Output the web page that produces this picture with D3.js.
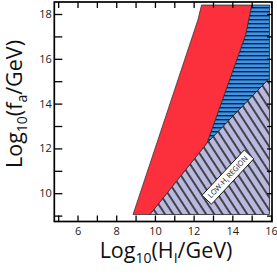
<!DOCTYPE html>
<html>
<head>
<meta charset="utf-8">
<script src="https://cdn.jsdelivr.net/npm/d3@7"></script>
<style>
  body { margin: 0; background: #fff; }
  svg { display: block; }
</style>
</head>
<body>
<svg id="chart" width="277" height="278"></svg>
<script>
// region outlines as [log10 H_I, log10 f_a]
const redRegion = [[8.87, 9.05], [9.74, 9.05], [12.69, 12.24], [14.68, 17.06], [15.0, 18.4], [12.41, 18.4], [12.22, 17.73]];
const stripedRegion = [[12.69, 12.24], [15.92, 15.14], [15.92, 18.4], [15.0, 18.4], [14.68, 17.06]];
const hatchedRegion = [[9.74, 9.05], [15.92, 9.05], [15.92, 15.14], [12.69, 12.24]];

const xTicks = [5, 6, 7, 8, 9, 10, 11, 12, 13, 14, 15, 16];
const xTickLabels = [6, 8, 10, 12, 14, 16];
const yTicks = [9, 10, 11, 12, 13, 14, 15, 16, 17, 18];
const yTickLabels = [10, 12, 14, 16, 18];

const regionLabel = {x: 13.77, y: 10.72, main: "LOW-H", sub: "I", rest: " REGION"};

const svg = d3.select("#chart");
const margin = {left: 54.3, right: 5, top: 2, bottom: 56.5};
const W = 277, H = 278;

const x = d3.scaleLinear().domain([4.8, 16.05]).range([margin.left, W - margin.right]);
const y = d3.scaleLinear().domain([8.737, 18.536]).range([H - margin.bottom, margin.top]);

const defs = svg.append("defs");

// horizontal blue / black stripes
const stripes = defs.append("pattern")
    .attr("id", "stripes")
    .attr("patternUnits", "userSpaceOnUse")
    .attr("width", 8).attr("height", 4);
stripes.append("rect").attr("width", 8).attr("height", 4).attr("fill", "#1a1a1a");
stripes.append("rect").attr("y", 0.4).attr("width", 8).attr("height", 2.6).attr("fill", "#3b95ee");

// diagonal hatch
const hatch = defs.append("pattern")
    .attr("id", "hatch")
    .attr("patternUnits", "userSpaceOnUse")
    .attr("width", 6.9).attr("height", 10)
    .attr("patternTransform", "rotate(-33)");
hatch.append("rect").attr("width", 6.9).attr("height", 10).attr("fill", "#b9b9dd");
hatch.append("line")
    .attr("x1", 1).attr("x2", 1).attr("y1", 0).attr("y2", 10)
    .attr("stroke", "#111").attr("stroke-width", 1.4);

const line = d3.line().x(d => x(d[0])).y(d => y(d[1])).curve(d3.curveLinearClosed);

svg.append("path").datum(hatchedRegion)
    .attr("d", line).attr("fill", "url(#hatch)")
    .attr("stroke", "#222").attr("stroke-width", 0.8);
svg.append("path").datum(stripedRegion)
    .attr("d", line).attr("fill", "url(#stripes)")
    .attr("stroke", "#222").attr("stroke-width", 0.8);
svg.append("path").datum(redRegion)
    .attr("d", line).attr("fill", "#fc303c")
    .attr("stroke", "#333").attr("stroke-width", 0.8);

// boxed label inside the hatched region
const lab = svg.append("g")
    .attr("transform", `translate(${x(regionLabel.x)},${y(regionLabel.y)}) rotate(-47)`);
lab.append("rect")
    .attr("x", -31).attr("y", -6.5).attr("width", 62).attr("height", 13)
    .attr("fill", "#fff").attr("stroke", "#111").attr("stroke-width", 0.9);
const lt = lab.append("text")
    .attr("text-anchor", "middle").attr("y", 2.4)
    .style("font", "7.3px 'Open Sans', sans-serif").attr("fill", "#111");
lt.append("tspan").text(regionLabel.main);
lt.append("tspan").attr("dy", 2).style("font-size", "5px").text(regionLabel.sub);
lt.append("tspan").attr("dy", -2).text(regionLabel.rest);

// axes, ticks pointing inward
const tickFont = "11px 'Open Sans', sans-serif";
function styleAxis(g) {
  g.select(".domain").remove();
  g.selectAll(".tick line").attr("stroke", "#000").attr("stroke-width", 1.3);
  g.selectAll(".tick text").style("font", tickFont).attr("fill", "#222");
  g.selectAll(".tick text").filter(function() { return this.textContent === ""; }).remove();
}

svg.append("g")
    .attr("transform", `translate(0,${y.range()[0]})`)
    .call(d3.axisBottom(x).tickValues(xTicks).tickSize(-6).tickPadding(5.5)
      .tickFormat(d => xTickLabels.includes(d) ? d : ""))
    .call(styleAxis);
svg.append("g")
    .attr("transform", `translate(0,${y.range()[1]})`)
    .call(d3.axisTop(x).tickValues(xTicks).tickSize(-6).tickFormat(""))
    .call(styleAxis);
svg.append("g")
    .attr("transform", `translate(${x.range()[0]},0)`)
    .call(d3.axisLeft(y).tickValues(yTicks).tickSize(-8).tickPadding(2.5)
      .tickFormat(d => yTickLabels.includes(d) ? d : ""))
    .call(styleAxis);
svg.append("g")
    .attr("transform", `translate(${x.range()[1]},0)`)
    .call(d3.axisRight(y).tickValues(yTicks).tickSize(-5).tickFormat(""))
    .call(styleAxis);

svg.append("rect")
    .attr("x", x.range()[0]).attr("y", y.range()[1])
    .attr("width", x.range()[1] - x.range()[0])
    .attr("height", y.range()[0] - y.range()[1])
    .attr("fill", "none").attr("stroke", "#000").attr("stroke-width", 1.7);

// axis titles
const titleFont = "21.5px 'Open Sans', sans-serif";
const xt = svg.append("text")
    .attr("x", 166).attr("y", 258).attr("text-anchor", "middle")
    .style("font", titleFont).attr("fill", "#111");
xt.append("tspan").text("Log");
xt.append("tspan").attr("dy", 5).style("font-size", "14px").text("10");
xt.append("tspan").attr("dy", -5).text("(H");
xt.append("tspan").attr("dy", 5).style("font-size", "14px").text("I");
xt.append("tspan").attr("dy", -5).text("/GeV)");

const yt = svg.append("text")
    .attr("transform", "translate(22,104) rotate(-90)").attr("text-anchor", "middle")
    .style("font", titleFont).attr("fill", "#111");
yt.append("tspan").text("Log");
yt.append("tspan").attr("dy", 5).style("font-size", "14px").text("10");
yt.append("tspan").attr("dy", -5).text("(f");
yt.append("tspan").attr("dy", 5).style("font-size", "14px").text("a");
yt.append("tspan").attr("dy", -5).text("/GeV)");
</script>
</body>
</html>
